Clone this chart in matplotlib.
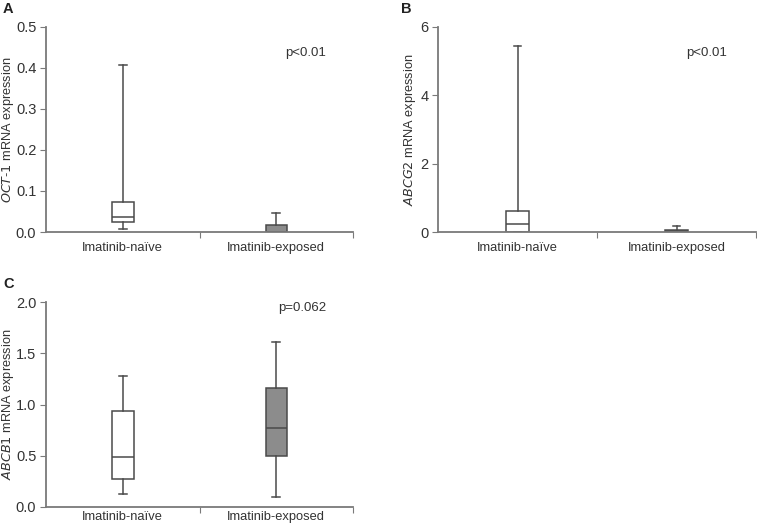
import matplotlib
matplotlib.use('Agg')
import matplotlib.pyplot as plt

plt.rcParams['font.family'] = ['Liberation Sans', 'DejaVu Sans']

groups = ['Imatinib-naïve', 'Imatinib-exposed']
fills = ['white', '#8c8c8c']

# box stats: whislo, q1, med, q3, whishi
oct1_naive = [0.008, 0.024, 0.037, 0.072, 0.408]
oct1_exposed = [0.0, 0.0, 0.0, 0.016, 0.046]
abcg2_naive = [0.0, 0.0, 0.23, 0.61, 5.45]
abcg2_exposed = [0.0, 0.0, 0.02, 0.07, 0.17]
abcb1_naive = [0.124, 0.276, 0.485, 0.933, 1.278]
abcb1_exposed = [0.098, 0.494, 0.767, 1.161, 1.613]

line_col = '#4a4a4a'
spine_col = '#7a7a7a'
text_col = '#333333'


def make_stats(vals):
    lo, q1, med, q3, hi = vals
    return dict(whislo=lo, q1=q1, med=med, q3=q3, whishi=hi, fliers=[])


def draw_panel(ax, data, gene, ylim, yticks, fmt, ptext, p_xy, label_x, xpad):
    stats = [make_stats(d) for d in data]
    res = ax.bxp(stats, positions=[0, 1], widths=0.14, capwidths=0.05,
                 patch_artist=True, showfliers=False,
                 boxprops=dict(color=line_col, linewidth=1.1),
                 medianprops=dict(color=line_col, linewidth=1.1),
                 whiskerprops=dict(color=line_col, linewidth=1.1),
                 capprops=dict(color=line_col, linewidth=1.1))
    for patch, fc in zip(res['boxes'], fills):
        patch.set_facecolor(fc)
        patch.set_edgecolor(line_col)
    ax.set_xlim(-0.5, 1.5)
    ax.set_ylim(*ylim)
    ax.set_yticks(yticks)
    ax.set_yticklabels([fmt.format(v) for v in yticks])
    ax.set_xticks([0.5, 1.5])
    ax.set_xticklabels([])
    ax.set_xticks([0, 1], minor=True)
    ax.set_xticklabels(groups, minor=True)
    ax.tick_params(axis='x', which='minor', length=0, pad=xpad, labelsize=9.3,
                   labelcolor=text_col)
    ax.tick_params(axis='x', which='major', length=4, color=spine_col)
    ax.tick_params(axis='y', length=4, color=spine_col, labelsize=10.5, pad=3,
                   labelcolor=text_col)
    for s in ['top', 'right']:
        ax.spines[s].set_visible(False)
    for s in ['left', 'bottom']:
        ax.spines[s].set_color(spine_col)
        ax.spines[s].set_linewidth(1.3)
    ax.set_ylabel(gene + ' mRNA expression', fontsize=9.2, color=text_col)
    ax.yaxis.set_label_coords(label_x, 0.5)
    ax.text(p_xy[0], p_xy[1], ptext, transform=ax.transAxes, ha='center',
            va='center', fontsize=9.5, color=text_col)


fig = plt.figure(figsize=(7.57, 5.28), dpi=100)
ax_a = fig.add_axes([0.0608, 0.5606, 0.4055, 0.3883])
ax_b = fig.add_axes([0.5786, 0.5606, 0.4201, 0.3883])
ax_c = fig.add_axes([0.0608, 0.0398, 0.4055, 0.3882])

draw_panel(ax_a, [oct1_naive, oct1_exposed], '$\\it{OCT}$-$\\it{1}$', (0, 0.5),
           [0, 0.1, 0.2, 0.3, 0.4, 0.5], '{:.1f}', 'p<0.01', (0.844, 0.873),
           -0.097, 7)
draw_panel(ax_b, [abcg2_naive, abcg2_exposed], '$\\it{ABCG2}$', (0, 6),
           [0, 2, 4, 6], '{:.0f}', 'p<0.01', (0.846, 0.873), -0.062, 7)
draw_panel(ax_c, [abcb1_naive, abcb1_exposed], '$\\it{ABCB1}$', (0, 2.0),
           [0, 0.5, 1.0, 1.5, 2.0], '{:.1f}', 'p=0.062', (0.834, 0.97),
           -0.097, 3)

for x, y, letter in [(0.004, 0.996, 'A'), (0.530, 0.996, 'B'), (0.004, 0.475, 'C')]:
    fig.text(x, y, letter, ha='left', va='top', fontsize=10.5,
             fontweight='bold', color='#222222')

fig.savefig('out.png', dpi=100)
